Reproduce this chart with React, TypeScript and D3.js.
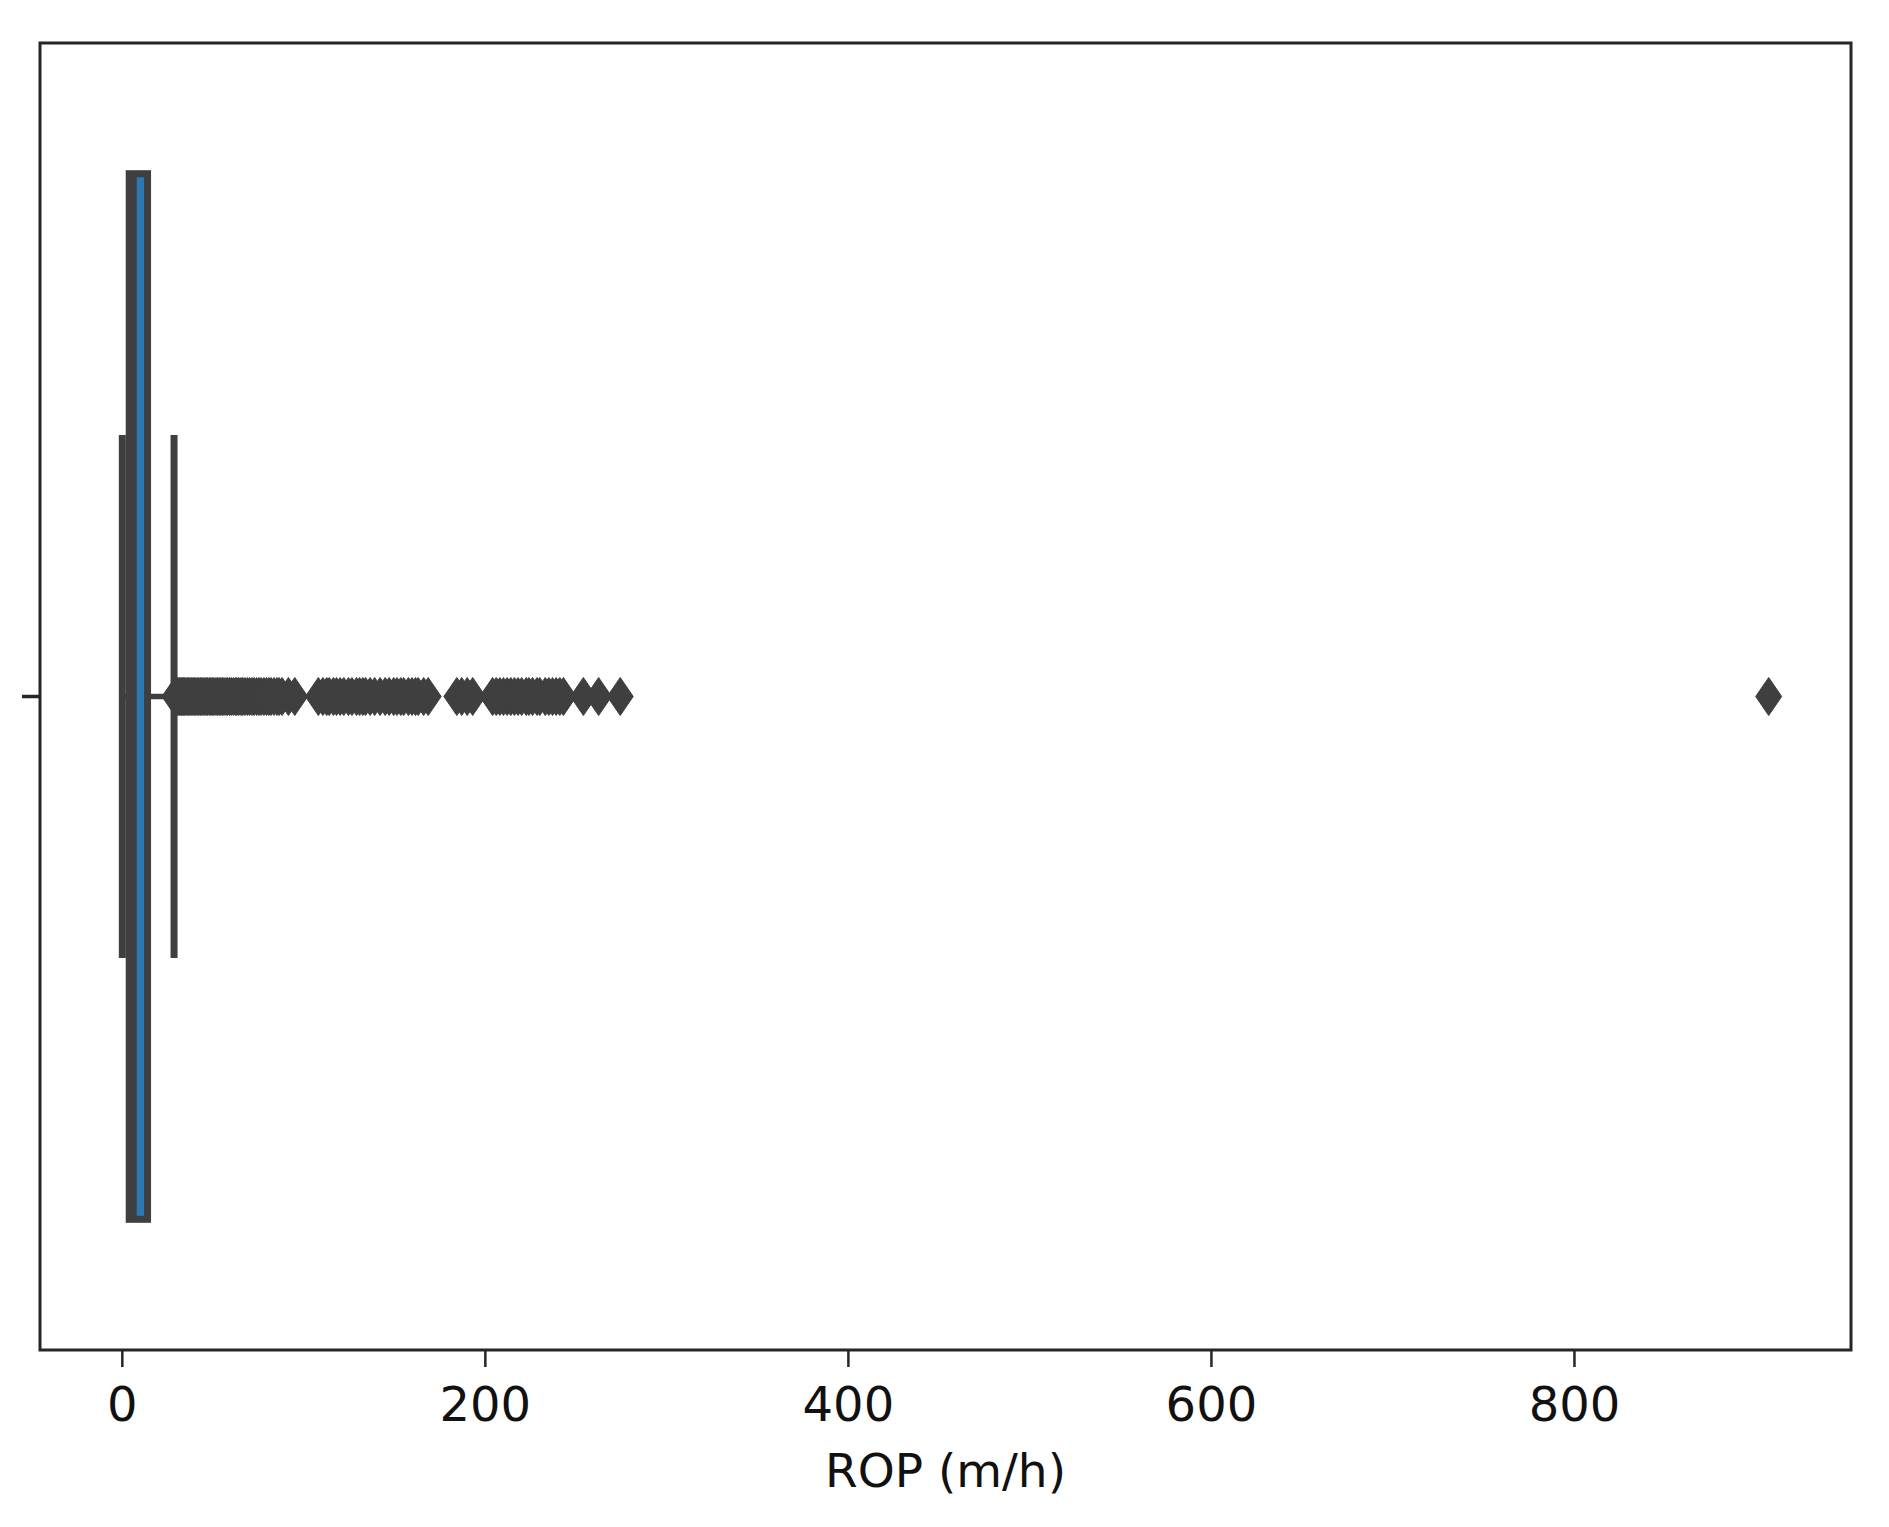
import React from "react";
import * as d3 from "d3";

// Box statistics (ROP, m/h)
const boxStats = { q1: 3.8, median: 6.0, q3: 13.9, whiskerLow: 0, whiskerHigh: 28.5 };

// Outliers (flier values, m/h)
const outliers: number[] = [
  29, 29.5, 30, 30.6, 31.2, 31.8, 32.5, 33, 33.7, 34.4, 35, 35.8, 36.5, 37.2, 38, 38.9, 39.5,
  40.3, 41.2, 42, 42.9, 43.6, 44.5, 45.4, 46.2, 47, 48, 48.8, 49.7, 50.5, 51.6, 52.4, 53.3,
  54.2, 55.1, 56, 57.2, 58, 59.1, 60, 61.2, 62.3, 63.1, 64.2, 65.4, 66.3, 67.5, 68.9, 70.1,
  71.4, 72.6, 74, 75.3, 76.5, 78, 79.4, 80.7, 82, 83.6, 85.2, 86.4, 88, 91.5, 95,
  108, 110.5, 112.6, 114, 116.3, 118, 120, 122, 124.6, 126.5, 129, 130.7, 132.5, 134, 136.5,
  139, 142, 144.8, 147, 149.5, 151.3, 153.4, 155, 157.6, 159.6, 161.5, 163, 166, 168.5,
  184.3, 187, 190, 193,
  204, 206, 208, 210, 212, 214, 216, 218, 220, 222.5, 224, 226, 228.5, 230, 233, 235, 237, 239, 241, 243,
  254, 262.4, 274.3,
  907,
];

const xTicks = [0, 200, 400, 600, 800];
const xLabel = "ROP (m/h)";

const W = 1889;
const H = 1527;
const left = 40, right = 1851, top = 43, bottom = 1350;
const gray = "#3f3f3f";
const blue = "#2c78b2";
const font = "'DejaVu Sans', sans-serif";

export default function App() {
  const x = d3.scaleLinear().domain([-45.35, 952.35]).range([left, right]);
  const y = d3.scaleLinear().domain([-0.5, 0.5]).range([top, bottom]);
  const lw = 7;
  const hw = 13, hh = 19;
  const diamond = (cx: number, cy: number) =>
    `M${cx},${cy - hh}L${cx + hw},${cy}L${cx},${cy + hh}L${cx - hw},${cy}Z`;

  return (
    <svg
      width={W}
      height={H}
      style={{ position: "absolute", left: 0, top: 0, background: "#fff" }}
    >
      <rect x={0} y={0} width={W} height={H} fill="#fff" />
      {/* box */}
      <rect
        x={x(boxStats.q1)}
        y={y(-0.4)}
        width={x(boxStats.q3) - x(boxStats.q1)}
        height={y(0.4) - y(-0.4)}
        fill={blue}
        stroke={gray}
        strokeWidth={lw}
      />
      {/* whiskers */}
      <line x1={x(boxStats.q1)} x2={x(boxStats.whiskerLow)} y1={y(0)} y2={y(0)} stroke={gray} strokeWidth={5.5} />
      <line x1={x(boxStats.q3)} x2={x(boxStats.whiskerHigh)} y1={y(0)} y2={y(0)} stroke={gray} strokeWidth={5.5} />
      {/* caps */}
      <line x1={x(boxStats.whiskerLow)} x2={x(boxStats.whiskerLow)} y1={y(-0.2)} y2={y(0.2)} stroke={gray} strokeWidth={lw} />
      <line x1={x(boxStats.whiskerHigh)} x2={x(boxStats.whiskerHigh)} y1={y(-0.2)} y2={y(0.2)} stroke={gray} strokeWidth={lw} />
      {/* median */}
      <line x1={x(boxStats.median)} x2={x(boxStats.median)} y1={y(-0.4)} y2={y(0.4)} stroke={gray} strokeWidth={lw} />
      {/* fliers */}
      {outliers.map((v, i) => (
        <path key={i} d={diamond(x(v), y(0))} fill={gray} stroke={gray} strokeWidth={1} />
      ))}
      {/* frame */}
      <rect x={left} y={top} width={right - left} height={bottom - top} fill="none" stroke="#262626" strokeWidth={3} />
      {/* y tick */}
      <line x1={left - 18} x2={left} y1={y(0)} y2={y(0)} stroke="#262626" strokeWidth={3.5} />
      {/* x ticks */}
      {xTicks.map((t) => (
        <g key={t}>
          <line x1={x(t)} x2={x(t)} y1={bottom} y2={bottom + 17} stroke="#262626" strokeWidth={2.5} />
          <text x={x(t)} y={1421} textAnchor="middle" fontFamily={font} fontSize={48} fill="#111">
            {t}
          </text>
        </g>
      ))}
      <text x={(left + right) / 2} y={1487} textAnchor="middle" fontFamily={font} fontSize={47} fill="#111">
        {xLabel}
      </text>
    </svg>
  );
}
